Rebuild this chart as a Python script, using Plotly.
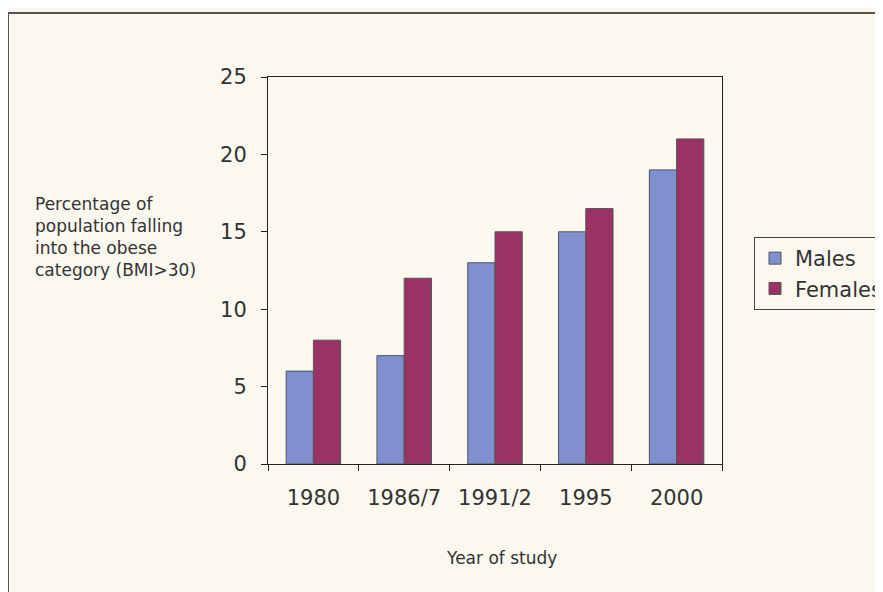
import plotly.graph_objects as go

years = ["1980", "1986/7", "1991/2", "1995", "2000"]
males = [6, 7, 13, 15, 19]
females = [8, 12, 15, 16.5, 21]

BG = "#fbf8f0"
FONT = "DejaVu Sans, Arial, sans-serif"
fig = go.Figure()
fig.add_trace(go.Bar(name="Males", x=years, y=males,
                     marker=dict(color="#7f8fcf", line=dict(color="#555555", width=1))))
fig.add_trace(go.Bar(name="Females", x=years, y=females,
                     marker=dict(color="#993366", line=dict(color="#555555", width=1))))

# page body has an 8px margin; coordinates below are in figure pixels
W, H = 883, 592
L, R, T, B = 260, 169, 69, 136
pw, ph = W - L - R, H - T - B

def px_x(p):
    return (p - L) / pw

def px_y(p):
    return (H - B - p) / ph

fig.update_layout(
    width=W, height=H,
    margin=dict(l=L, r=R, t=T, b=B, pad=0, autoexpand=False),
    paper_bgcolor=BG, plot_bgcolor=BG,
    barmode="group", bargap=0.4, bargroupgap=0,
    font=dict(family=FONT, color="#333333"),
    showlegend=True,
    legend=dict(x=px_x(746), y=px_y(229), xanchor="left", yanchor="top",
                bgcolor=BG, bordercolor="#444444", borderwidth=1,
                font=dict(size=21, color="#333333"), itemwidth=30,
                tracegroupgap=0),
    xaxis=dict(type="category", showline=True, linecolor="#222222", linewidth=1,
               mirror=True, ticks="outside", tickson="boundaries", ticklen=6,
               tickcolor="#222222", tickfont=dict(size=21), ticklabelstandoff=15,
               showgrid=False, zeroline=False),
    yaxis=dict(range=[0, 25], dtick=5, showline=True, linecolor="#222222", linewidth=1,
               mirror=True, ticks="outside", ticklen=6, tickcolor="#222222",
               tickfont=dict(size=21), ticklabelstandoff=10,
               showgrid=False, zeroline=False),
    annotations=[
        dict(text="Percentage of<br>population falling<br>into the obese<br>category (BMI>30)",
             xref="paper", yref="paper", x=px_x(25), y=px_y(184), xanchor="left",
             yanchor="top", align="left", showarrow=False,
             font=dict(size=17, color="#333333")),
        dict(text="Year of study", xref="paper", yref="paper", x=px_x(493), y=px_y(550),
             xanchor="center", yanchor="middle", showarrow=False,
             font=dict(size=17, color="#333333")),
    ],
    shapes=[
        dict(type="line", xref="paper", yref="paper", x0=px_x(0), x1=px_x(0),
             y0=px_y(5), y1=px_y(700), line=dict(color="#555555", width=2)),
        dict(type="line", xref="paper", yref="paper", x0=px_x(0), x1=px_x(1000),
             y0=px_y(5), y1=px_y(5), line=dict(color="#555555", width=2)),
    ],
)

fig.write_html("out.html")
